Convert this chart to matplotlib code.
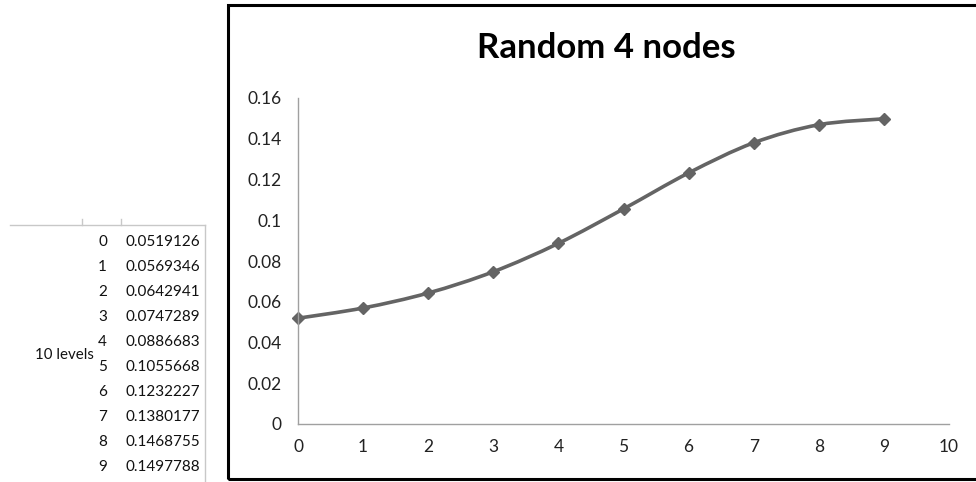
import numpy as np
import matplotlib
matplotlib.use("Agg")
import matplotlib.pyplot as plt
from matplotlib.path import Path
from matplotlib.patches import PathPatch, Rectangle

levels = [0, 1, 2, 3, 4, 5, 6, 7, 8, 9]
values = [0.0519126, 0.0569346, 0.0642941, 0.0747289, 0.0886683,
          0.1055668, 0.1232227, 0.1380177, 0.1468755, 0.1497788]
value_labels = ["0.0519126", "0.0569346", "0.0642941", "0.0747289", "0.0886683",
                "0.1055668", "0.1232227", "0.1380177", "0.1468755", "0.1497788"]
row_label = "10 levels"
title = "Random 4 nodes"

plt.rcParams['font.family'] = ['Lato', 'DejaVu Sans']

W, H = 976, 482
fig = plt.figure(figsize=(W / 100, H / 100), dpi=100)

# spreadsheet fragment on the left
def fx(px):
    return px / W

def fy(py):
    return 1 - py / H

fig.add_artist(plt.Line2D([fx(10), fx(205)], [fy(225), fy(225)], color='#c8c8c8', lw=1))
fig.add_artist(plt.Line2D([fx(205), fx(205)], [fy(225), fy(482)], color='#c8c8c8', lw=1))
for tx in (82, 121):
    fig.add_artist(plt.Line2D([fx(tx), fx(tx)], [fy(219), fy(225)], color='#c8c8c8', lw=1))
for i, (lv, vl) in enumerate(zip(levels, value_labels)):
    yy = fy(242 + i * 25)
    fig.text(fx(107), yy, str(lv), ha='right', va='center', fontsize=11, color='#111111')
    fig.text(fx(126), yy, vl, ha='left', va='center', fontsize=11, color='#111111')
fig.text(fx(35), fy(355), row_label, ha='left', va='center', fontsize=10.8, color='#111111')

# chart frame
fig.add_artist(Rectangle((fx(228), fy(479)), fx(975) - fx(228) + 0.01, fy(5) - fy(479),
                         fill=False, edgecolor='black', lw=2.2, clip_on=False))

ax = fig.add_axes([fx(298), fy(424), fx(949) - fx(298), fy(98) - fy(424)])
x = np.array(levels, dtype=float)
y = np.array(values)

# smooth curve through the points (Catmull-Rom as cubic Bezier)
verts = [(x[0], y[0])]
codes = [Path.MOVETO]
n = len(x)
for i in range(n - 1):
    p0 = (x[max(i - 1, 0)], y[max(i - 1, 0)])
    p1 = (x[i], y[i])
    p2 = (x[i + 1], y[i + 1])
    p3 = (x[min(i + 2, n - 1)], y[min(i + 2, n - 1)])
    c1 = (p1[0] + (p2[0] - p0[0]) / 6, p1[1] + (p2[1] - p0[1]) / 6)
    c2 = (p2[0] - (p3[0] - p1[0]) / 6, p2[1] - (p3[1] - p1[1]) / 6)
    verts += [c1, c2, p2]
    codes += [Path.CURVE4] * 3
ax.add_patch(PathPatch(Path(verts, codes), fill=False, edgecolor='#646464', lw=2.6))
ax.plot(x, y, linestyle='none', marker='D', markersize=6.5, color='#646464', clip_on=False)

ax.set_xlim(0, 10)
ax.set_ylim(0, 0.16)
ax.set_xticks(range(0, 11))
ax.set_yticks([0, 0.02, 0.04, 0.06, 0.08, 0.1, 0.12, 0.14, 0.16])
ax.set_yticklabels(['0', '0.02', '0.04', '0.06', '0.08', '0.1', '0.12', '0.14', '0.16'])
ax.tick_params(length=0, labelsize=12.5, colors='#222222', pad=12)
ax.tick_params(axis='x', pad=11)
for s in ('top', 'right'):
    ax.spines[s].set_visible(False)
for s in ('left', 'bottom'):
    ax.spines[s].set_color('#a0a0a0')
    ax.spines[s].set_linewidth(1)

fig.text(fx(606), fy(48), title, ha='center', va='center', fontsize=25, fontweight='bold')

fig.savefig('out.png', dpi=100)
